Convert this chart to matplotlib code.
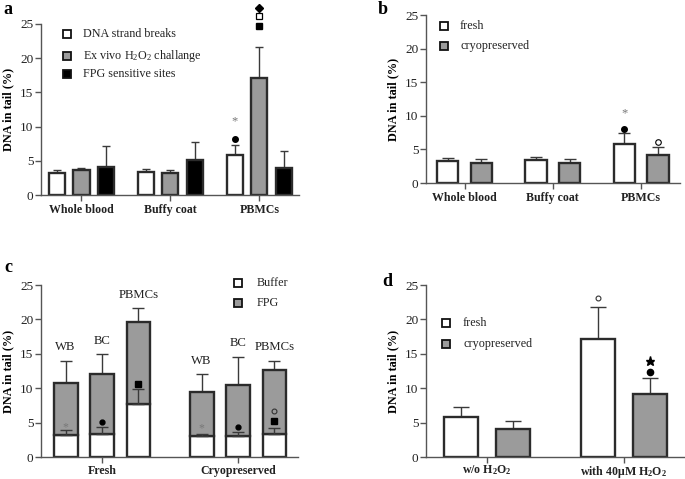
import matplotlib
matplotlib.use("Agg")
import matplotlib.pyplot as plt
import numpy as np

plt.rcParams['font.family'] = ['Liberation Serif', 'DejaVu Serif']
plt.rcParams['mathtext.fontset'] = 'custom'
plt.rcParams['mathtext.rm'] = 'Liberation Serif'
plt.rcParams['mathtext.bf'] = 'Liberation Serif:bold'
plt.rcParams['mathtext.it'] = 'Liberation Serif:italic'

# ---------------- data ----------------
# panel a
a_groups = ['Whole blood', 'Buffy coat', 'PBMCs']
a_series = ['DNA strand breaks', r'Ex vivo H$_2$O$_2$ challange', 'FPG sensitive sites']
a_strand = [3.2, 3.4, 5.8]
a_strand_err = [0.5, 0.4, 1.5]
a_h2o2 = [3.6, 3.2, 17.1]
a_h2o2_err = [0.4, 0.5, 4.6]
a_fpg = [4.1, 5.1, 4.0]
a_fpg_err = [3.1, 2.6, 2.5]

# panel b
b_groups = ['Whole blood', 'Buffy coat', 'PBMCs']
b_series = ['fresh', 'cryopreserved']
b_fresh = [3.2, 3.4, 5.8]
b_fresh_err = [0.5, 0.4, 1.6]
b_cryo = [2.95, 3.0, 4.1]
b_cryo_err = [0.55, 0.5, 1.2]

# panel c
c_groups = ['Fresh', 'Cryopreserved']
c_cells = ['WB', 'BC', 'PBMCs']
c_series = ['Buffer', 'FPG']
c_buffer_fresh = [3.2, 3.4, 7.7]
c_buffer_fresh_err = [0.7, 0.9, 2.2]
c_total_fresh = [10.7, 12.1, 19.6]
c_total_fresh_err = [3.2, 2.9, 2.0]
c_buffer_cryo = [3.0, 3.0, 3.4]
c_buffer_cryo_err = [0.4, 0.6, 0.8]
c_total_cryo = [9.5, 10.5, 12.6]
c_total_cryo_err = [2.5, 4.0, 1.4]
c_label_y_fresh = [16.0, 16.9, 23.5]
c_label_y_cryo = [14.0, 16.6, 16.0]

# panel d
d_groups = [r'w/o H$_\mathbf{2}$O$_\mathbf{2}$', r'with 40μM H$_\mathbf{2}$O$_\mathbf{2}$']
d_series = ['fresh', 'cryopreserved']
d_fresh = [5.8, 17.15]
d_fresh_err = [1.5, 4.6]
d_cryo = [4.1, 9.2]
d_cryo_err = [1.2, 2.3]

yticks = [0, 5, 10, 15, 20, 25]

# ---------------- style ----------------
WHITE = 'white'
GRAY = '#9b9b9b'
BLACK = 'black'
EDGE = '#2b2b2b'
SPINE = '#555555'
ERR = '#3a3a3a'
STAR_GRAY = '#777777'
FS_TICK = 9.5
FS_XT = 8.6
FS_YL = 8.8
FS_LEG = 8.7

fig = plt.figure(figsize=(6.85, 4.79), dpi=100)


def style_axis(ax, xticks, xlabels, xlim, xpad=2.5):
    ax.set_ylim(0, 25)
    ax.set_xlim(*xlim)
    ax.set_yticks(yticks)
    ax.set_yticklabels([str(t) for t in yticks], fontsize=FS_TICK)
    ax.set_xticks(xticks)
    ax.set_xticklabels(xlabels, fontsize=FS_XT, fontweight='bold')
    for s in ['top', 'right']:
        ax.spines[s].set_visible(False)
    for s in ['left', 'bottom']:
        ax.spines[s].set_color(SPINE)
        ax.spines[s].set_linewidth(1.0)
    ax.tick_params(axis='both', direction='out', length=4, width=1.0,
                   color=SPINE, pad=1.5, labelcolor='#222222')
    ax.tick_params(axis='x', pad=xpad)
    ax.set_ylabel('DNA in tail (%)', fontsize=FS_YL, fontweight='bold', labelpad=4)


def bars(ax, x, vals, errs, color, width, capsize):
    ax.bar(x, vals, width=width, color=color, edgecolor=EDGE, linewidth=1.7, zorder=2)
    ax.errorbar(x, vals, yerr=[np.zeros(len(vals)), errs], fmt='none',
                ecolor=ERR, elinewidth=1.0, capsize=capsize, capthick=1.0, zorder=1)


def legend_manual(ax, x_box, x_text, ys, labels, colors, fs=FS_LEG):
    for y, lab, col in zip(ys, labels, colors):
        ax.plot([x_box], [y], marker='s', markersize=6, markerfacecolor=col,
                markeredgecolor='#111111', markeredgewidth=1.3,
                transform=ax.transAxes, clip_on=False, zorder=5)
        ax.text(x_text, y, lab, transform=ax.transAxes, fontsize=fs,
                va='center', ha='left', color='#222222')


# ---------------- panel a ----------------
axa = fig.add_axes([41/685, 1-195/479, 258/685, 171/479])
xa = np.arange(len(a_groups))
off_a, w_a = 0.275, 0.18
bars(axa, xa - off_a, a_strand, a_strand_err, WHITE, w_a, 3)
bars(axa, xa, a_h2o2, a_h2o2_err, GRAY, w_a, 3)
bars(axa, xa + off_a, a_fpg, a_fpg_err, BLACK, w_a, 3)
style_axis(axa, xa, a_groups, (-0.455, 2.444))
legend_manual(axa, 0.10, 0.163, [0.94, 0.815, 0.705], a_series, [WHITE, GRAY, BLACK])
# significance markers
axa.text(2 - off_a, 10.7, '*', ha='center', va='center', fontsize=9, color=STAR_GRAY)
axa.plot([2 - off_a], [8.2], 'o', ms=4, color='black', clip_on=False)
axa.plot([2], [24.7], 's', ms=4.2, color='black', clip_on=False)
axa.plot([2], [26.1], 's', ms=4.2, mfc='white', mec='black', mew=0.9, clip_on=False)
axa.plot([2], [27.4], 'D', ms=3.8, color='black', clip_on=False)

# ---------------- panel b ----------------
axb = fig.add_axes([426/685, 1-183/479, 254/685, 168/479])
xb = np.arange(len(b_groups))
off_b, w_b = 0.19, 0.24
bars(axb, xb - off_b, b_fresh, b_fresh_err, WHITE, w_b, 4)
bars(axb, xb + off_b, b_cryo, b_cryo_err, GRAY, w_b, 4)
style_axis(axb, xb, b_groups, (-0.436, 2.44))
legend_manual(axb, 0.071, 0.134, [0.935, 0.817], b_series, [WHITE, GRAY])
axb.text(2 - off_b, 10.4, '*', ha='center', va='center', fontsize=9, color=STAR_GRAY)
axb.plot([2 - off_b], [8.0], 'o', ms=4, color='black')
axb.plot([2 + off_b], [6.15], 'o', ms=4, mfc='white', mec='black', mew=0.8)

# ---------------- panel c ----------------
axc = fig.add_axes([41/685, 1-457/479, 257/685, 172/479])
xc = np.arange(len(c_groups))
off_c, w_c = 0.268, 0.176
cell_off = np.array([-off_c, 0, off_c])
for gi, (buf, buf_err, tot, tot_err, lab_y) in enumerate([
        (c_buffer_fresh, c_buffer_fresh_err, c_total_fresh, c_total_fresh_err, c_label_y_fresh),
        (c_buffer_cryo, c_buffer_cryo_err, c_total_cryo, c_total_cryo_err, c_label_y_cryo)]):
    xs = xc[gi] + cell_off
    buf = np.array(buf)
    tot = np.array(tot)
    axc.bar(xs, buf, width=w_c, color=WHITE, edgecolor=EDGE, linewidth=1.7, zorder=2)
    axc.bar(xs, tot - buf, bottom=buf, width=w_c, color=GRAY, edgecolor=EDGE,
            linewidth=1.7, zorder=2)
    axc.errorbar(xs, tot, yerr=[np.zeros(3), tot_err], fmt='none', ecolor=ERR,
                 elinewidth=1.0, capsize=4, capthick=1.0, zorder=1)
    axc.errorbar(xs, buf, yerr=[np.zeros(3), buf_err], fmt='none', ecolor=ERR,
                 elinewidth=1.0, capsize=4, capthick=1.0, zorder=3)
    for x, lab, ly in zip(xs, c_cells, lab_y):
        axc.text(x, ly, lab, ha='center', va='center', fontsize=9.2, color='#222222')
style_axis(axc, xc, c_groups, (-0.449, 1.441), xpad=1.5)
legend_manual(axc, 0.767, 0.84, [1.01, 0.895], c_series, [WHITE, GRAY])
# markers
axc.text(0 - off_c, 4.3, '*', ha='center', va='center', fontsize=8.5, color=STAR_GRAY, zorder=4)
axc.plot([0], [5.1], 'o', ms=3.5, color='black', zorder=4)
axc.plot([0 + off_c], [10.6], 's', ms=5, color='black', zorder=4)
axc.text(1 - off_c, 4.2, '*', ha='center', va='center', fontsize=8.5, color=STAR_GRAY, zorder=4)
axc.plot([1], [4.4], 'o', ms=3.5, color='black', zorder=4)
axc.plot([1 + off_c], [6.7], 'o', ms=3.5, mfc='none', mec='#333333', mew=0.8, zorder=4)
axc.plot([1 + off_c], [5.2], 's', ms=5, color='black', zorder=4)

# ---------------- panel d ----------------
axd = fig.add_axes([426/685, 1-457/479, 259/685, 172/479])
xd = np.arange(len(d_groups))
off_d, w_d = 0.188, 0.248
bars(axd, xd - off_d, d_fresh, d_fresh_err, WHITE, w_d, 6)
bars(axd, xd + off_d, d_cryo, d_cryo_err, GRAY, w_d, 6)
style_axis(axd, xd, d_groups, (-0.445, 1.445), xpad=0.8)
legend_manual(axd, 0.077, 0.143, [0.779, 0.657], d_series, [WHITE, GRAY])
axd.plot([1 - off_d], [23.1], 'o', ms=3.5, mfc='white', mec='#333333', mew=0.8)
axd.plot([1 + off_d], [13.9], '*', ms=6.5, color='black')
axd.plot([1 + off_d], [12.3], 'o', ms=4.5, color='black')

# panel letters
for lab, x, y in [('a', 8, 10), ('b', 383, 10), ('c', 8, 267), ('d', 387, 282)]:
    fig.text(x/685, 1 - y/479, lab, fontsize=13, fontweight='bold', va='center', ha='center')

fig.savefig('out.png', dpi=100)
